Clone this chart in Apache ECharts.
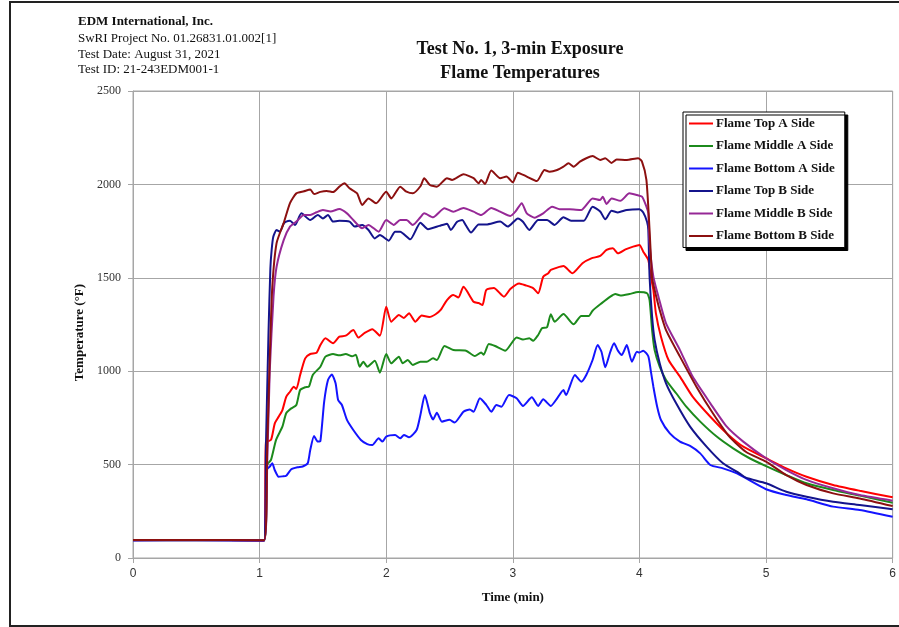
<!DOCTYPE html>
<html>
<head>
<meta charset="utf-8">
<title>Flame Temperatures</title>
<script src="https://cdn.jsdelivr.net/npm/echarts@6/dist/echarts.min.js"></script>
<style>
  html, body { margin: 0; padding: 0; background: #fff; }
  #main { width: 899px; height: 627px; }
</style>
</head>
<body>
<div id="main"></div>
<script>
// 图例名称
var names = ['Flame Top A Side', 'Flame Middle A Side', 'Flame Bottom A Side',
             'Flame Top B Side', 'Flame Middle B Side', 'Flame Bottom B Side'];
var colors = ['#ff0000', '#1c8a1c', '#1414ff', '#14148c', '#962896', '#8c1010'];

// 坐标轴刻度
var xTicks = [0, 1, 2, 3, 4, 5, 6];
var yTicks = [0, 500, 1000, 1500, 2000, 2500];

// 数据 [时间(min), 温度(°F)]
var flameTopA = [[0,96],[0.5,97],[1.035,95],[1.05,620],[1.09,632],[1.12,721],[1.15,756],[1.18,792],[1.21,863],[1.24,890],[1.27,917],[1.29,905],[1.32,980],[1.36,1069],[1.40,1092],[1.45,1099],[1.48,1140],[1.52,1176],[1.58,1150],[1.63,1185],[1.68,1190],[1.74,1220],[1.78,1180],[1.83,1205],[1.89,1225],[1.95,1190],[2.00,1345],[2.04,1265],[2.10,1301],[2.14,1285],[2.18,1310],[2.23,1265],[2.28,1298],[2.34,1290],[2.39,1305],[2.43,1328],[2.48,1381],[2.53,1408],[2.57,1395],[2.61,1452],[2.69,1372],[2.73,1365],[2.76,1354],[2.79,1435],[2.85,1445],[2.93,1399],[2.98,1440],[3.05,1470],[3.10,1460],[3.16,1445],[3.20,1417],[3.24,1506],[3.28,1525],[3.30,1542],[3.40,1563],[3.47,1524],[3.55,1578],[3.62,1604],[3.69,1617],[3.74,1649],[3.79,1658],[3.83,1631],[3.89,1652],[3.95,1667],[4.00,1676],[4.03,1640],[4.07,1595],[4.09,1506],[4.11,1435],[4.13,1310],[4.17,1185],[4.23,1060],[4.32,971],[4.42,864],[4.56,756],[4.69,667],[4.82,596],[5.00,534],[5.16,480],[5.32,435],[5.53,391],[5.74,360],[6.00,325]];

var flameMiddleA = [[0,95],[0.5,96],[1.035,94],[1.06,500],[1.09,525],[1.13,632],[1.18,703],[1.21,775],[1.25,801],[1.29,819],[1.32,899],[1.36,914],[1.39,918],[1.42,980],[1.48,1024],[1.52,1078],[1.58,1092],[1.63,1085],[1.68,1092],[1.73,1080],[1.76,1088],[1.79,1024],[1.82,1050],[1.85,1024],[1.91,1056],[1.95,992],[2.00,1092],[2.04,1042],[2.10,1078],[2.13,1042],[2.17,1060],[2.21,1033],[2.27,1051],[2.32,1051],[2.37,1069],[2.40,1060],[2.46,1135],[2.53,1113],[2.63,1110],[2.70,1081],[2.75,1100],[2.77,1088],[2.81,1146],[2.86,1135],[2.94,1110],[3.03,1181],[3.08,1170],[3.13,1176],[3.16,1163],[3.20,1194],[3.23,1230],[3.27,1235],[3.30,1305],[3.33,1265],[3.40,1306],[3.48,1251],[3.54,1296],[3.60,1296],[3.63,1324],[3.70,1363],[3.77,1399],[3.81,1413],[3.85,1405],[3.92,1413],[3.99,1424],[4.06,1417],[4.08,1381],[4.10,1220],[4.12,1113],[4.16,1024],[4.21,953],[4.29,882],[4.37,810],[4.48,730],[4.61,650],[4.74,587],[4.87,534],[5.00,492],[5.16,444],[5.32,400],[5.53,364],[5.74,334],[6.00,296]];

var flameBottomA = [[0,94],[0.5,95],[1.035,93],[1.055,471],[1.08,489],[1.10,507],[1.12,470],[1.15,435],[1.18,437],[1.21,440],[1.25,475],[1.30,486],[1.34,490],[1.38,507],[1.40,578],[1.43,653],[1.46,623],[1.48,626],[1.51,837],[1.54,953],[1.57,983],[1.60,935],[1.62,846],[1.65,819],[1.69,739],[1.74,685],[1.80,632],[1.85,610],[1.89,605],[1.94,641],[1.97,623],[2.00,650],[2.07,658],[2.11,641],[2.14,658],[2.18,646],[2.24,685],[2.27,766],[2.305,873],[2.345,775],[2.37,742],[2.40,778],[2.44,730],[2.50,740],[2.54,725],[2.61,783],[2.66,795],[2.69,783],[2.74,855],[2.79,820],[2.83,783],[2.87,819],[2.91,810],[2.97,873],[3.03,855],[3.08,814],[3.15,860],[3.20,814],[3.24,850],[3.30,814],[3.35,855],[3.40,899],[3.42,872],[3.49,980],[3.54,944],[3.58,980],[3.63,1060],[3.67,1140],[3.70,1104],[3.73,1021],[3.77,1104],[3.80,1149],[3.83,1110],[3.86,1087],[3.90,1140],[3.94,1051],[3.98,1104],[4.00,1100],[4.03,1110],[4.07,1080],[4.09,1000],[4.11,917],[4.14,810],[4.17,739],[4.24,667],[4.32,623],[4.40,600],[4.48,560],[4.56,498],[4.66,480],[4.77,453],[4.84,427],[5.00,368],[5.16,337],[5.32,314],[5.53,275],[5.74,257],[6.00,221]];

var flameTopB = [[0,96],[0.5,97],[1.035,95],[1.05,600],[1.07,1200],[1.085,1550],[1.095,1649],[1.108,1720],[1.134,1756],[1.16,1747],[1.19,1790],[1.21,1801],[1.24,1805],[1.28,1783],[1.33,1845],[1.40,1809],[1.46,1836],[1.50,1818],[1.54,1836],[1.58,1801],[1.63,1805],[1.71,1801],[1.75,1774],[1.81,1783],[1.86,1756],[1.91,1711],[1.95,1729],[2.02,1699],[2.07,1747],[2.11,1747],[2.19,1706],[2.27,1795],[2.33,1760],[2.42,1778],[2.48,1790],[2.51,1756],[2.56,1800],[2.60,1809],[2.63,1780],[2.67,1742],[2.73,1785],[2.79,1785],[2.90,1801],[2.96,1774],[3.04,1818],[3.08,1800],[3.13,1756],[3.20,1809],[3.27,1809],[3.33,1783],[3.40,1824],[3.46,1805],[3.56,1805],[3.63,1881],[3.69,1855],[3.73,1813],[3.78,1859],[3.83,1850],[3.90,1863],[4.00,1867],[4.03,1850],[4.06,1800],[4.07,1756],[4.08,1506],[4.10,1292],[4.12,1167],[4.16,1042],[4.21,935],[4.29,828],[4.40,703],[4.53,596],[4.66,507],[4.79,453],[4.84,430],[5.00,400],[5.16,355],[5.32,328],[5.53,301],[5.74,284],[6.00,261]];

var flameMiddleB = [[0,95],[0.5,96],[1.035,94],[1.06,500],[1.08,1000],[1.11,1400],[1.134,1559],[1.19,1702],[1.24,1774],[1.29,1801],[1.35,1836],[1.40,1836],[1.45,1851],[1.50,1863],[1.56,1855],[1.63,1868],[1.69,1845],[1.74,1809],[1.81,1765],[1.86,1783],[1.94,1747],[2.00,1809],[2.06,1783],[2.11,1809],[2.16,1809],[2.21,1783],[2.27,1824],[2.30,1845],[2.37,1824],[2.46,1872],[2.53,1854],[2.61,1874],[2.69,1854],[2.75,1836],[2.83,1874],[2.90,1854],[2.98,1831],[3.02,1854],[3.07,1899],[3.11,1845],[3.17,1822],[3.24,1845],[3.31,1881],[3.37,1867],[3.45,1867],[3.54,1863],[3.63,1925],[3.69,1916],[3.71,1934],[3.74,1895],[3.78,1925],[3.85,1912],[3.92,1952],[3.98,1943],[4.02,1934],[4.055,1881],[4.07,1845],[4.08,1685],[4.11,1506],[4.15,1399],[4.21,1256],[4.32,1113],[4.42,971],[4.56,828],[4.69,703],[4.82,623],[5.00,534],[5.16,471],[5.32,418],[5.53,373],[5.74,337],[6.00,307]];

var flameBottomB = [[0,96],[0.5,97],[1.035,95],[1.06,600],[1.082,1113],[1.10,1450],[1.134,1686],[1.19,1793],[1.24,1900],[1.29,1952],[1.35,1963],[1.40,1973],[1.43,1948],[1.48,1960],[1.53,1965],[1.58,1959],[1.63,1988],[1.67,2006],[1.71,1979],[1.77,1952],[1.81,1890],[1.86,1925],[1.92,1899],[2.00,1961],[2.04,1925],[2.11,1988],[2.16,1961],[2.21,1952],[2.27,1990],[2.30,2033],[2.345,1997],[2.40,1988],[2.48,2033],[2.52,2024],[2.61,2054],[2.69,2033],[2.73,2006],[2.75,2024],[2.78,2002],[2.83,2074],[2.90,2033],[2.95,2042],[3.00,2011],[3.04,2063],[3.11,2042],[3.19,2018],[3.25,2077],[3.29,2068],[3.35,2077],[3.40,2095],[3.44,2113],[3.48,2095],[3.53,2122],[3.58,2140],[3.63,2152],[3.69,2131],[3.73,2140],[3.78,2115],[3.82,2133],[3.90,2131],[3.99,2140],[4.02,2122],[4.055,2024],[4.08,1756],[4.10,1500],[4.12,1435],[4.16,1328],[4.21,1220],[4.32,1078],[4.45,917],[4.58,775],[4.71,650],[4.84,569],[5.00,516],[5.16,444],[5.32,391],[5.53,346],[5.74,319],[6.00,278]];

var seriesData = [flameTopA, flameMiddleA, flameBottomA, flameTopB, flameMiddleB, flameBottomB];

var serif = '"Liberation Serif", "Times New Roman", serif';
var sans = '"Liberation Sans", Arial, sans-serif';

var myChart = echarts.init(document.getElementById('main'));

var series = [];
for (var i = 0; i < names.length; i++) {
    series.push({
        name: names[i],
        type: 'line',
        data: seriesData[i],
        symbol: 'none',
        smooth: 0.2,
        lineStyle: { color: colors[i], width: 2 },
        itemStyle: { color: colors[i] },
        z: 2 + i
    });
}

var option = {
    animation: false,
    backgroundColor: '#fff',
    title: [
        {
            text: 'Test No. 1, 3-min Exposure\nFlame Temperatures',
            left: 520, top: 38, textAlign: 'center', padding: 0,
            textStyle: { fontFamily: serif, fontSize: 18, fontWeight: 'bold', color: '#111', lineHeight: 23.5 }
        },
        {
            text: 'EDM International, Inc.',
            left: 78, top: 14, padding: 0,
            textStyle: { fontFamily: serif, fontSize: 13, fontWeight: 'bold', color: '#111', lineHeight: 16 }
        },
        {
            text: 'SwRI Project No. 01.26831.01.002[1]\nTest Date: August 31, 2021\nTest ID: 21-243EDM001-1',
            left: 78, top: 31, padding: 0,
            textStyle: { fontFamily: serif, fontSize: 13, fontWeight: 'normal', color: '#111', lineHeight: 15.6 }
        }
    ],
    legend: {
        data: names,
        orient: 'vertical',
        left: 683, top: 112,
        padding: [5, 10, 5, 6],
        icon: 'rect',
        itemWidth: 24, itemHeight: 2,
        itemGap: 9.5,
        backgroundColor: '#fff',
        borderColor: '#000', borderWidth: 1,
        shadowColor: '#000', shadowBlur: 0, shadowOffsetX: 3, shadowOffsetY: 3,
        textStyle: { fontFamily: serif, fontSize: 13, lineHeight: 13, fontWeight: 'bold', color: '#111', padding: [0, 0, 0, -2] }
    },
    grid: {
        left: 133, right: 6, top: 91, bottom: 69,
        show: true, borderColor: '#a6a6a6', borderWidth: 1
    },
    xAxis: {
        type: 'value',
        min: xTicks[0], max: xTicks[xTicks.length - 1], interval: 1,
        name: 'Time (min)', nameLocation: 'middle', nameGap: 33,
        nameTextStyle: { fontFamily: serif, fontSize: 13, fontWeight: 'bold', color: '#111' },
        axisLine: { show: true, lineStyle: { color: '#a6a6a6' } },
        axisTick: { show: true, length: 5, lineStyle: { color: '#a6a6a6' } },
        axisLabel: { fontFamily: sans, fontSize: 12, color: '#333', margin: 10 },
        splitLine: { show: true, lineStyle: { color: '#a6a6a6', width: 1 } }
    },
    yAxis: {
        type: 'value',
        min: yTicks[0], max: yTicks[yTicks.length - 1], interval: 500,
        name: 'Temperature (°F)', nameLocation: 'middle', nameGap: 44, nameRotate: 90,
        nameTextStyle: { fontFamily: serif, fontSize: 13, fontWeight: 'bold', color: '#111', padding: [0, 16, 0, 0] },
        axisLine: { show: true, lineStyle: { color: '#a6a6a6' } },
        axisTick: { show: true, length: 5, lineStyle: { color: '#a6a6a6' } },
        axisLabel: {
            fontFamily: serif, fontSize: 12, color: '#333', margin: 12,
            formatter: function (v) { return String(v); }
        },
        splitLine: { show: true, lineStyle: { color: '#a6a6a6', width: 1 } }
    },
    // 外框
    graphic: [
        {
            type: 'rect', z: -1, silent: true,
            shape: { x: 10, y: 2, width: 900, height: 624 },
            style: { fill: 'none', stroke: '#222', lineWidth: 2 }
        }
    ],
    series: series
};

myChart.setOption(option);
</script>
</body>
</html>
